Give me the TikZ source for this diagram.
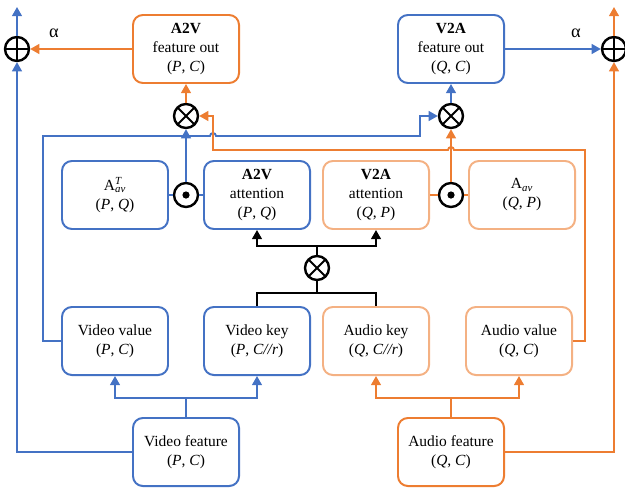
\documentclass[tikz,border=0pt]{standalone}
\usepackage{fontspec}
\setmainfont{Liberation Serif}
\usetikzlibrary{arrows.meta}
\definecolor{vblue}{HTML}{4472C4}
\definecolor{aorange}{HTML}{ED7D31}
\definecolor{alight}{HTML}{F4B183}
\newcommand{\dimpair}[2]{(\textit{#1}, \textit{#2})}

\begin{document}
\begin{tikzpicture}[x=0.025cm,y=-0.025cm,>={Triangle[length=6.5pt,width=7pt]},line width=1.3pt,
  block/.style={draw,rounded corners=7pt,line width=1.4pt,minimum width=2.65cm,minimum height=1.7cm,align=center,inner sep=2pt,font=\fontsize{11}{13.5}\selectfont},
  vblock/.style={block,draw=vblue},
  ablock/.style={block,draw=aorange},
  lblock/.style={block,draw=alight},
  vline/.style={draw=vblue},
  oline/.style={draw=aorange},
  kline/.style={draw=black},
  op/.style={circle,draw,line width=1.7pt,minimum size=0.6cm,inner sep=0pt},
  plusop/.style={op,path picture={\draw[line width=1.4pt] (path picture bounding box.north) -- (path picture bounding box.south) (path picture bounding box.west) -- (path picture bounding box.east);}},
  timesop/.style={op,path picture={\draw[line width=1.4pt] (path picture bounding box.north west) -- (path picture bounding box.south east) (path picture bounding box.south west) -- (path picture bounding box.north east);}},
  dotop/.style={op,path picture={\fill (path picture bounding box.center) circle[radius=0.9mm];}}]

  \useasboundingbox (0,0) rectangle (625,488);

  % Outputs
  \node [ablock] at (186,49) (a2vout) {\textbf{A2V}\\feature out\\\dimpair{P}{C}};
  \node [vblock] at (451,49) (v2aout) {\textbf{V2A}\\feature out\\\dimpair{Q}{C}};
  \node [plusop] at (17,49) (sumL) {};
  \node [plusop] at (614,49) (sumR) {};
  \node [font=\fontsize{13}{15}\selectfont] at (54,33) (alphaL) {α};
  \node [font=\fontsize{13}{15}\selectfont] at (576,33) (alphaR) {α};
  \coordinate (outL) at (17,7);
  \coordinate (outR) at (614,7);
  \node [timesop] at (186,116) (mulL) {};
  \node [timesop] at (451,116) (mulR) {};

  % Attention
  \node [vblock] at (115,195) (atr) {A\makebox[0pt][l]{\textsuperscript{\textit{T}}}\textsubscript{\textit{av}}\\\dimpair{P}{Q}};
  \node [dotop] at (186,195) (dotL) {};
  \node [vblock] at (257,195) (a2vatt) {\textbf{A2V}\\attention\\\dimpair{P}{Q}};
  \node [lblock] at (376,195) (v2aatt) {\textbf{V2A}\\attention\\\dimpair{Q}{P}};
  \node [dotop] at (451,195) (dotR) {};
  \node [lblock] at (522,195) (aav) {A\textsubscript{\textit{av}}\\\dimpair{Q}{P}};
  \node [timesop] at (317,268) (mulC) {};
  \coordinate (kjoin) at (317,293);

  % Keys and values
  \node [vblock] at (115,341) (vval) {Video value\\\dimpair{P}{C}};
  \node [vblock] at (257,341) (vkey) {Video key\\(\textit{P}, \textit{C//r})};
  \node [lblock] at (376,341) (akey) {Audio key\\(\textit{Q}, \textit{C//r})};
  \node [lblock] at (519,341) (aval) {Audio value\\\dimpair{Q}{C}};

  % Inputs
  \node [vblock] at (186,452) (vfeat) {Video feature\\\dimpair{P}{C}};
  \node [ablock] at (451,452) (afeat) {Audio feature\\\dimpair{Q}{C}};

  % Feature branches
  \draw[vline] (vfeat.north) -- ++(0,-19) coordinate (vsplit);
  \draw[vline,->] (vsplit) -| (vval);
  \draw[vline,->] (vsplit) -| (vkey);
  \draw[oline] (afeat.north) -- ++(0,-19) coordinate (asplit);
  \draw[oline,->] (asplit) -| (akey);
  \draw[oline,->] (asplit) -| (aval);

  % Residual paths
  \draw[vline,->] (vfeat.west) -| (sumL);
  \draw[vline,->] (sumL) -- (outL);
  \draw[oline,->] (afeat.east) -| (sumR);
  \draw[oline,->] (sumR) -- (outR);

  % Key product
  \draw[kline] (vkey.north) |- (kjoin) -| (akey.north);
  \draw[kline] (kjoin) -- (mulC);
  \draw[kline] (mulC.north) -- ++(0,-9) coordinate (ajoin);
  \draw[kline,->] (ajoin) -| (a2vatt);
  \draw[kline,->] (ajoin) -| (v2aatt);

  % Attention weighting
  \draw[vline] (atr) -- (dotL) -- (a2vatt);
  \draw[oline] (v2aatt) -- (dotR) -- (aav);
  \draw[vline,->] (dotL) -- (mulL);
  \draw[oline,->] (dotR) -- (mulR);

  % Values crossing over
  \draw[vline,->] (vval.west) -| (43,136) -- (210,136) arc[start angle=180,end angle=360,radius=3] -- (420,136) |- (mulR);
  \draw[oline,->] (aval.east) -| (585,150) -- (454,150) arc[start angle=0,end angle=-180,radius=3] -- (213,150) |- (mulL);

  % Outputs
  \draw[oline,->] (mulL) -- (a2vout);
  \draw[vline,->] (mulR) -- (v2aout);
  \draw[oline,->] (a2vout) -- (sumL);
  \draw[vline,->] (v2aout) -- (sumR);

\end{tikzpicture}
\end{document}
